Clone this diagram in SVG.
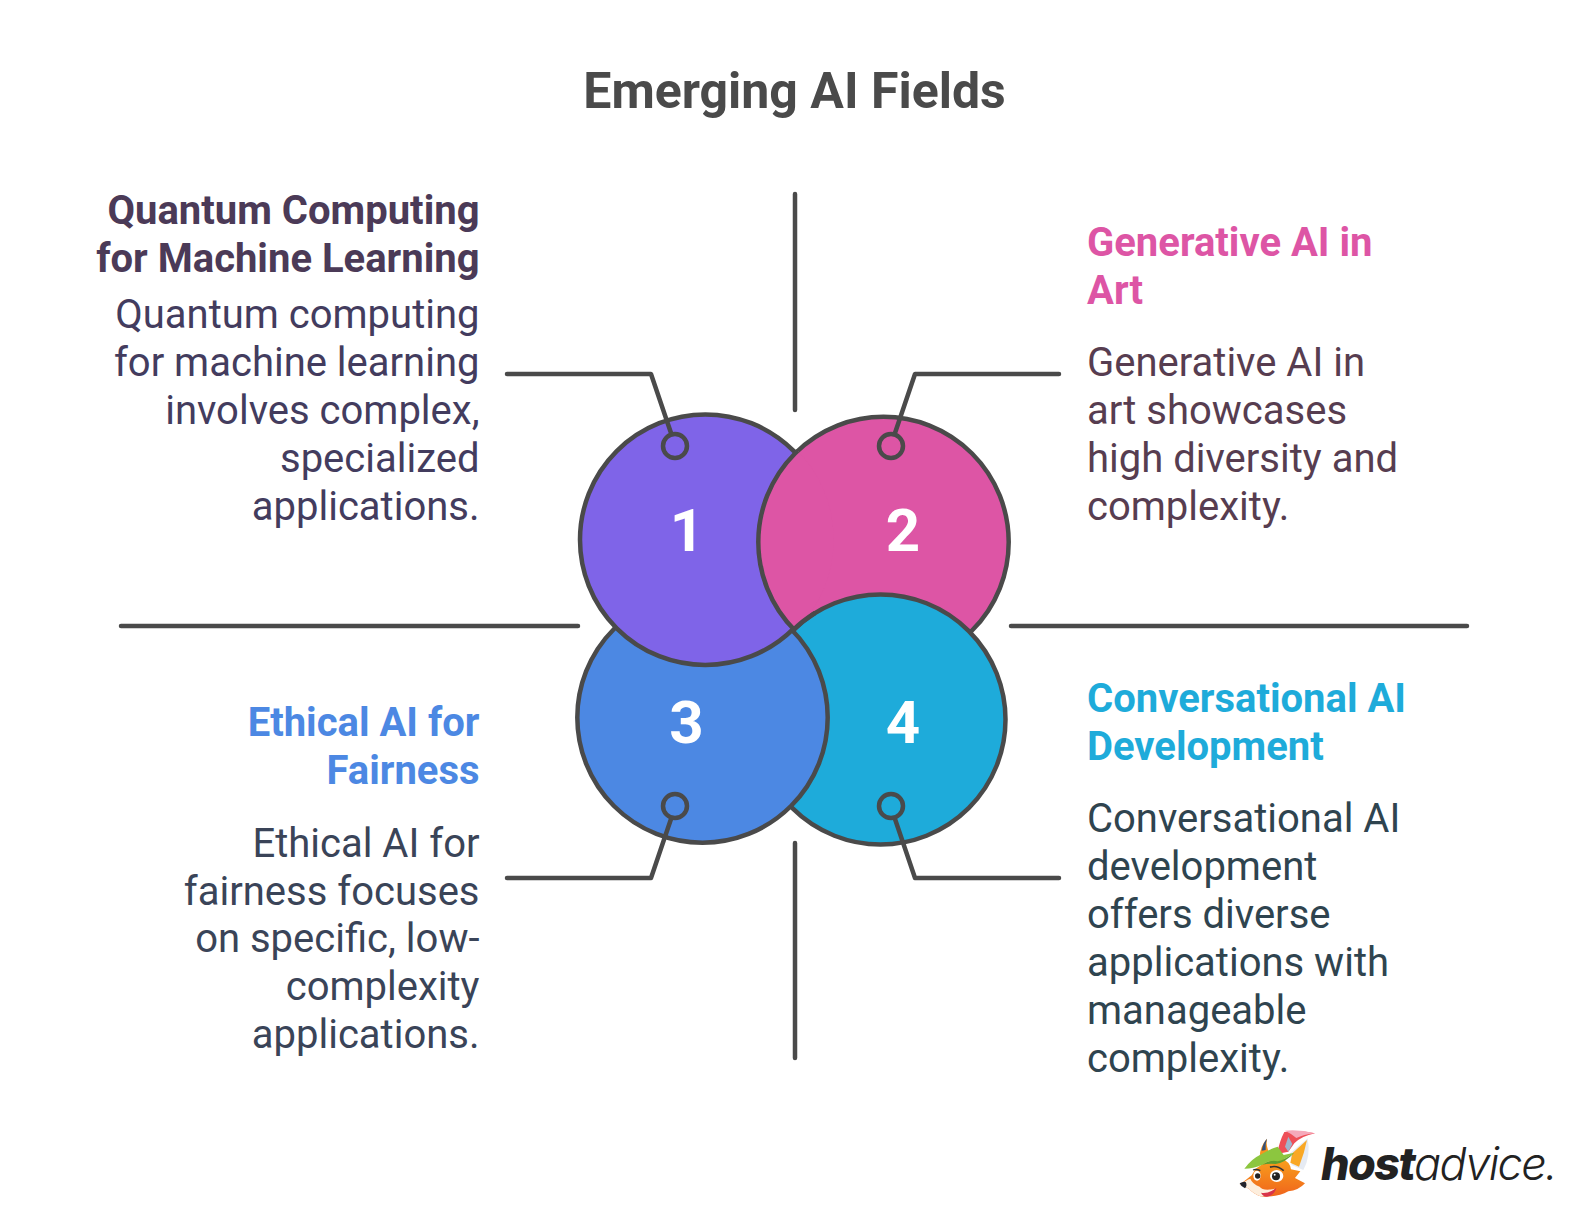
<svg xmlns="http://www.w3.org/2000/svg" xmlns:xlink="http://www.w3.org/1999/xlink" width="1580" height="1232" viewBox="0 0 1580 1232">
<style>
text{font-family:Roboto,"Liberation Sans",sans-serif}
.title{font-size:50px;font-weight:700;fill:#4a4a4a;text-anchor:middle}
.h{font-size:40px;font-weight:700}
.b{font-size:40px;font-weight:400}
.e{text-anchor:end}
.n{font-size:60px;font-weight:700;fill:#fff;text-anchor:middle}
.c{stroke:#4a4a4a;stroke-width:4.5}
.l{fill:none;stroke:#4a4a4a;stroke-width:4.5;stroke-linecap:round;stroke-linejoin:round}
.r{fill:none;stroke:#4a4a4a;stroke-width:4.5}
</style>
<defs>
<clipPath id="in1"><circle cx="705.3" cy="539.7" r="128.4"/></clipPath>
<circle id="d2" class="c" cx="883.5" cy="542" r="125.2" fill="#dd55a5"/>
<linearGradient id="fur" x1="0" y1="0" x2="0" y2="1"><stop offset="0" stop-color="#f8a01c"/><stop offset="1" stop-color="#f0641c"/></linearGradient>
</defs>
<rect width="1580" height="1232" fill="#fff"/>
<text id="title" class="title" x="794.5" y="108.3">Emerging AI Fields</text>
<g id="node-2"><use xlink:href="#d2" href="#d2"/><text class="n" x="903" y="550.5">2</text></g>
<g id="node-4"><circle class="c" cx="880.5" cy="719.5" r="125" fill="#1eabda"/><text class="n" x="903" y="742.7">4</text></g>
<g id="node-3"><circle class="c" cx="702.5" cy="717.5" r="125.2" fill="#4c88e3"/><text class="n" x="686.5" y="742.7">3</text></g>
<g id="node-1"><circle class="c" cx="705.3" cy="539.7" r="125.3" fill="#7f64e8"/><text class="n" x="687" y="550.5">1</text></g>
<g id="node-2-overlap" clip-path="url(#in1)"><use xlink:href="#d2" href="#d2"/></g>
<path id="node-4-edge" class="c" fill="none" d="M792 631.2A125 125 0 0 1 815 613"/>
<g id="connectors">
<path class="l" d="M795 194V410M795 843V1058M121 626H578M1011 626H1467"/>
<path class="l" d="M507 374H651L671 433"/><circle class="r" cx="675" cy="446" r="12"/>
<path class="l" d="M1059 374H915L895 433"/><circle class="r" cx="891" cy="446" r="12"/>
<path class="l" d="M507 878H651L671 819"/><circle class="r" cx="675" cy="806" r="12"/>
<path class="l" d="M1059 878H915L895 819"/><circle class="r" cx="891" cy="806" r="12"/>
</g>
<g id="label-1">
<text class="h e" fill="#4b3a57" x="479.5" y="224.3">Quantum Computing</text>
<text class="h e" fill="#4b3a57" x="479.5" y="272.3">for Machine Learning</text>
<g fill="#433c5e">
<text class="b e" x="479.5" y="327.7">Quantum computing</text>
<text class="b e" x="479.5" y="375.7">for machine learning</text>
<text class="b e" x="479.5" y="423.7">involves complex,</text>
<text class="b e" x="479.5" y="471.7">specialized</text>
<text class="b e" x="479.5" y="519.5">applications.</text>
</g>
</g>
<g id="label-2">
<text class="h" fill="#dd55a5" x="1087" y="256">Generative AI in</text>
<text class="h" fill="#dd55a5" x="1087" y="304">Art</text>
<g fill="#573d50">
<text class="b" x="1087" y="376">Generative AI in</text>
<text class="b" x="1087" y="424">art showcases</text>
<text class="b" x="1087" y="472">high diversity and</text>
<text class="b" x="1087" y="520">complexity.</text>
</g>
</g>
<g id="label-3">
<text class="h e" fill="#4c88e3" x="479.5" y="736.3">Ethical AI for</text>
<text class="h e" fill="#4c88e3" x="479.5" y="784.3">Fairness</text>
<g fill="#3a4458">
<text class="b e" x="479.5" y="856.5">Ethical AI for</text>
<text class="b e" x="479.5" y="904.5">fairness focuses</text>
<text class="b e" x="479.5" y="952.3">on specific, low-</text>
<text class="b e" x="479.5" y="1000">complexity</text>
<text class="b e" x="479.5" y="1048">applications.</text>
</g>
</g>
<g id="label-4">
<text class="h" fill="#1eabda" x="1087" y="712">Conversational AI</text>
<text class="h" fill="#1eabda" x="1087" y="760">Development</text>
<g fill="#2f444f">
<text class="b" x="1087" y="832">Conversational AI</text>
<text class="b" x="1087" y="880">development</text>
<text class="b" x="1087" y="928">offers diverse</text>
<text class="b" x="1087" y="976">applications with</text>
<text class="b" x="1087" y="1024">manageable</text>
<text class="b" x="1087" y="1071.5">complexity.</text>
</g>
</g>
<g id="logo">
<g transform="translate(1235 1120) scale(.3333)">
<path d="M218 55Q228 110 205 150L170 135 165 100Z" fill="#e6ebf3"/>
<path d="M216 60L172 100 166 128 192 140Q208 100 216 60Z" fill="#f9a825"/>
<path d="M148 36Q195 30 240 40 200 48 178 70L160 95 126 102Q134 62 148 36Z" fill="#ee4f58"/>
<path d="M150 32Q195 28 240 40 205 44 184 54 168 40 150 32Z" fill="#f5a9bb"/>
<path d="M160 50L172 72 160 95 150 80Z" fill="#9fb4cc"/>
<path d="M96 56Q74 80 74 112L104 100Q92 80 96 56Z" fill="#f7941d"/>
<path d="M96 56Q84 68 80 92L92 90Q90 72 96 56Z" fill="#34507a"/>
<path d="M62 146Q100 118 140 116 165 124 168 148L196 154 180 174 210 190Q190 212 160 214 130 232 80 230 55 222 42 206L14 194Q38 176 50 166Z" fill="url(#fur)"/>
<path d="M14 194Q34 180 46 176 52 192 74 200 84 214 120 206 110 226 80 230 55 222 42 206Z" fill="#fdeedd"/>
<path d="M14 190Q24 184 32 186 38 196 30 205 18 200 14 190Z" fill="#23242c"/>
<path d="M28 146Q50 116 76 104 102 88 128 80L146 105 178 98Q150 118 128 124 105 118 82 134 55 146 28 146Z" fill="#8cc63f"/>
<path d="M82 134Q105 118 128 124 150 118 178 98 150 128 122 132 100 130 82 134Z" fill="#5f9e2e"/>
<path d="M78 218Q100 222 124 204 118 226 96 230 84 230 78 218Z" fill="#d8344a"/>
<ellipse cx="66" cy="167" rx="11" ry="15" fill="#fff"/><circle cx="68" cy="168" r="8" fill="#222"/>
<ellipse cx="125" cy="168" rx="20" ry="18" fill="#fff"/><circle cx="123" cy="169" r="12" fill="#222"/><circle cx="119" cy="164" r="3" fill="#fff"/>
<path d="M105 142Q125 134 146 152" fill="none" stroke="#333" stroke-width="5"/>
<path d="M54 150Q64 146 76 152" fill="none" stroke="#333" stroke-width="4"/>
</g>
<text x="1321" y="1180" font-size="45" font-style="italic" fill="#222" style="font-family:Inter,'Liberation Sans',sans-serif;letter-spacing:-1.6px"><tspan font-weight="800">host</tspan><tspan font-weight="300">advice.</tspan></text>
</g>
</svg>
